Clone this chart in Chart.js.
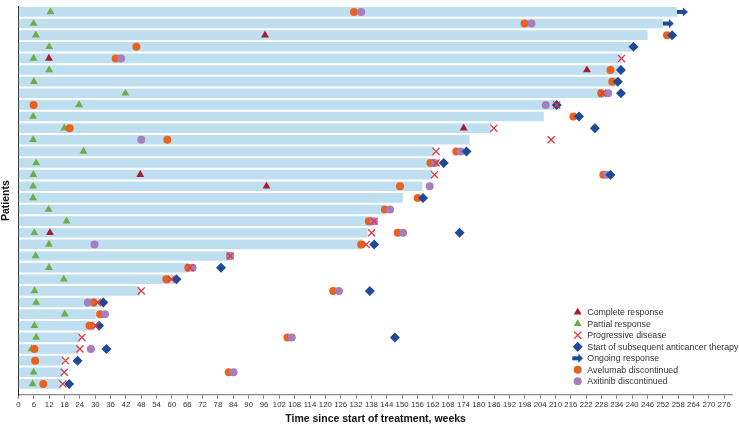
<!DOCTYPE html>
<html>
<head>
<meta charset="utf-8">
<script src="https://cdn.jsdelivr.net/npm/chart.js@4.4.0/dist/chart.umd.min.js"></script>
<style>
  html, body { margin: 0; padding: 0; background: #fff; }
  #wrap { width: 739px; height: 428px; }
</style>
</head>
<body>
<div id="wrap"><canvas id="myChart" width="739" height="428"></canvas></div>
<script>
'use strict'

// DANE - one row per patient, top to bottom
var patients = Array.from({length: 33}, function(_, i) { return i + 1; });

// treatment duration (weeks)
var barWeeks = [257.5, 252.0, 245.9, 239.6, 235.7, 235.6, 233.7, 228.7, 210.3, 205.3, 184.6,
                176.3, 162.4, 161.5, 161.5, 157.8, 150.2, 142.9, 138.3, 136.4, 134.4, 82.5,
                66.2, 61.0, 47.4, 32.4, 30.1, 29.8, 24.0, 23.3, 17.5, 17.2, 16.8];

// events: [patient, week]
var completeResp = [[3, 96.4], [5, 11.9], [6, 222.3], [11, 174.1], [15, 47.6], [16, 97.0], [20, 12.3]];

var partialResp = [[1, 12.5], [2, 5.9], [3, 6.8], [4, 12.0], [5, 5.9], [6, 12.0], [7, 6.0], [8, 41.8],
                   [9, 23.7], [10, 5.7], [11, 17.9], [12, 5.7], [13, 25.4], [14, 6.9], [15, 5.8],
                   [16, 5.7], [17, 5.7], [18, 11.8], [19, 18.8], [20, 6.2], [21, 11.9], [22, 6.7],
                   [23, 11.9], [24, 17.7], [25, 6.3], [26, 6.9], [27, 18.1], [28, 6.2], [29, 6.9],
                   [30, 5.1], [32, 5.9], [33, 5.5]];

var progression = [[5, 235.8], [8, 228.4], [9, 210.5], [11, 185.9], [12, 208.3], [13, 163.3], [14, 163.3],
                   [15, 162.7], [19, 139.1], [20, 138.1], [21, 136.0], [22, 82.8], [23, 67.1], [24, 59.8],
                   [25, 48.0], [26, 30.9], [28, 30.2], [29, 24.8], [30, 24.0], [31, 18.4], [32, 17.9],
                   [33, 17.3]];

var subsequentTx = [[3, 255.6], [4, 240.5], [6, 235.6], [7, 234.4], [8, 235.6], [9, 210.5], [10, 219.2],
                    [11, 225.4], [13, 175.2], [14, 166.3], [15, 231.5], [17, 158.2], [20, 172.5],
                    [21, 139.1], [23, 79.2], [24, 61.8], [25, 137.4], [26, 33.2], [28, 31.5],
                    [29, 147.2], [30, 34.4], [31, 23.1], [33, 19.8]];

var ongoing = [1, 2];

var avelumabStop = [[1, 131.2], [2, 197.9], [3, 253.6], [4, 46.1], [5, 38.0], [6, 231.5], [7, 232.2],
                    [8, 227.9], [9, 5.9], [10, 217.0], [11, 20.0], [12, 58.2], [13, 171.2], [14, 161.1],
                    [15, 228.7], [16, 149.2], [17, 156.1], [18, 143.3], [19, 137.0], [20, 148.3],
                    [21, 134.0], [23, 66.4], [24, 57.8], [25, 123.1], [26, 29.3], [27, 31.9], [28, 27.8],
                    [29, 105.2], [30, 6.2], [31, 6.5], [32, 82.2], [33, 9.7]];

var axitinibStop = [[1, 134.0], [2, 200.6], [5, 40.1], [8, 230.6], [9, 206.2], [12, 48.0], [13, 172.9],
                    [14, 162.8], [15, 229.9], [16, 160.8], [18, 145.3], [19, 139.0], [20, 150.4],
                    [21, 29.7], [22, 82.7], [23, 68.1], [25, 125.3], [26, 27.1], [27, 33.8], [29, 106.9],
                    [30, 28.3], [32, 84.1]];

var weekStep = 6;
var weekMax = 276;

var legendOrder = ['Complete response', 'Partial response', 'Progressive disease',
                   'Start of subsequent anticancer therapy', 'Ongoing response',
                   'Avelumab discontinued', 'Axitinib discontinued'];

var FONT = '"Liberation Sans", Arial, Helvetica, sans-serif';
var BLUE = '#1f4a98';

function pts(list) {
	return list.map(function(p) { return {x: p[1], y: p[0]}; });
}

// strzalka - ongoing response
function makeArrow() {
	var c = document.createElement('canvas');
	c.width = 24; c.height = 12;
	var g = c.getContext('2d');
	g.fillStyle = BLUE;
	g.beginPath();
	g.moveTo(12, 4); g.lineTo(18, 4); g.lineTo(18, 1.5); g.lineTo(23, 6);
	g.lineTo(18, 10.5); g.lineTo(18, 8); g.lineTo(12, 8);
	g.closePath(); g.fill();
	return c;
}
var arrowImg = makeArrow();

function scatterSet(label, data, style, color, radius, order, border) {
	return {
		type: 'scatter',
		label: label,
		data: pts(data),
		pointStyle: style,
		pointRadius: radius,
		pointHoverRadius: radius,
		backgroundColor: color,
		borderColor: color,
		pointBorderWidth: border || 0,
		borderWidth: border || 0,
		order: order
	};
}

//LEGENDA
var legendBox = {
	id: 'legendBox',
	afterDraw: function(chart) {
		var ctx = chart.ctx;
		ctx.save();
		ctx.font = '8.8px ' + FONT;
		ctx.textBaseline = 'middle';
		legendOrder.forEach(function(label, i) {
			var ds = chart.data.datasets.find(function(d) { return d.label === label; });
			var y = 312.3 + i * 11.5;
			var x = 577.7;
			if (ds.pointStyle === arrowImg) {
				ctx.drawImage(arrowImg, x - 17.5, y - 6);
			} else {
				ctx.fillStyle = ds.backgroundColor;
				ctx.strokeStyle = ds.borderColor;
				ctx.lineWidth = ds.borderWidth;
				Chart.helpers.drawPoint(ctx, {
					pointStyle: ds.pointStyle,
					radius: ds.pointRadius,
					rotation: 0,
					borderWidth: ds.borderWidth
				}, x, y);
			}
			ctx.fillStyle = '#333';
			ctx.fillText(label, 587.3, y + 0.5);
		});
		ctx.restore();
	}
};

//WYKRES
var ctx = document.getElementById('myChart').getContext('2d');

var chart = new Chart(ctx, {
	type: 'bar',
	data: {
		datasets: [
			{
				type: 'bar',
				label: 'Treatment',
				data: barWeeks.map(function(w, i) { return {x: w, y: patients[i]}; }),
				backgroundColor: '#bfdff0',
				borderWidth: 0,
				barThickness: 9,
				order: 20
			},
			scatterSet('Complete response', completeResp, 'triangle', '#a51c33', 4.6, 6),
			scatterSet('Partial response', partialResp, 'triangle', '#70ad47', 4.6, 6),
			scatterSet('Progressive disease', progression, 'crossRot', '#e03a3e', 5, 1, 1.3),
			scatterSet('Start of subsequent anticancer therapy', subsequentTx, 'rectRot', BLUE, 5, 2),
			scatterSet('Ongoing response', ongoing.map(function(p) { return [p, barWeeks[p - 1]]; }),
				arrowImg, BLUE, 6, 0),
			scatterSet('Avelumab discontinued', avelumabStop, 'circle', '#e9601f', 4, 4),
			scatterSet('Axitinib discontinued', axitinibStop, 'circle', '#a67dbd', 4, 3)
		]
	},
	options: {
		indexAxis: 'y',
		responsive: false,
		animation: false,
		events: [],
		layout: { padding: { top: 0, right: 4, bottom: 0, left: 0 } },
		plugins: {
			legend: { display: false },
			tooltip: { enabled: false }
		},
		scales: {
			x: {
				type: 'linear',
				position: 'bottom',
				min: 0,
				max: 279.3,
				offset: false,
				grid: {
					display: true,
					drawOnChartArea: false,
					drawTicks: true,
					tickLength: 4,
					color: '#8a8a8a'
				},
				border: { display: true, color: '#8a8a8a', width: 1.2 },
				ticks: {
					stepSize: weekStep,
					includeBounds: false,
					autoSkip: false,
					maxRotation: 0,
					minRotation: 0,
					padding: 1,
					color: '#333',
					font: { family: FONT, size: 7.8 },
					callback: function(v) { return v <= weekMax ? v : ''; }
				},
				title: {
					display: true,
					text: 'Time since start of treatment, weeks',
					color: '#111',
					font: { family: FONT, size: 10.5, weight: 'bold' },
					padding: { top: 0, bottom: 3 }
				},
				afterFit: function(s) { s.height = 33; }
			},
			y: {
				type: 'linear',
				reverse: true,
				min: 0.5175,
				max: 33.957,
				offset: false,
				grid: { display: false },
				border: { display: true, color: '#222', width: 1 },
				ticks: { display: false },
				title: {
					display: true,
					text: 'Patients',
					color: '#111',
					font: { family: FONT, size: 10.5, weight: 'bold' },
					padding: { top: 0, bottom: 0 }
				},
				afterFit: function(s) { s.width = 18.5; }
			}
		}
	},
	plugins: [legendBox]
});
</script>
</body>
</html>
